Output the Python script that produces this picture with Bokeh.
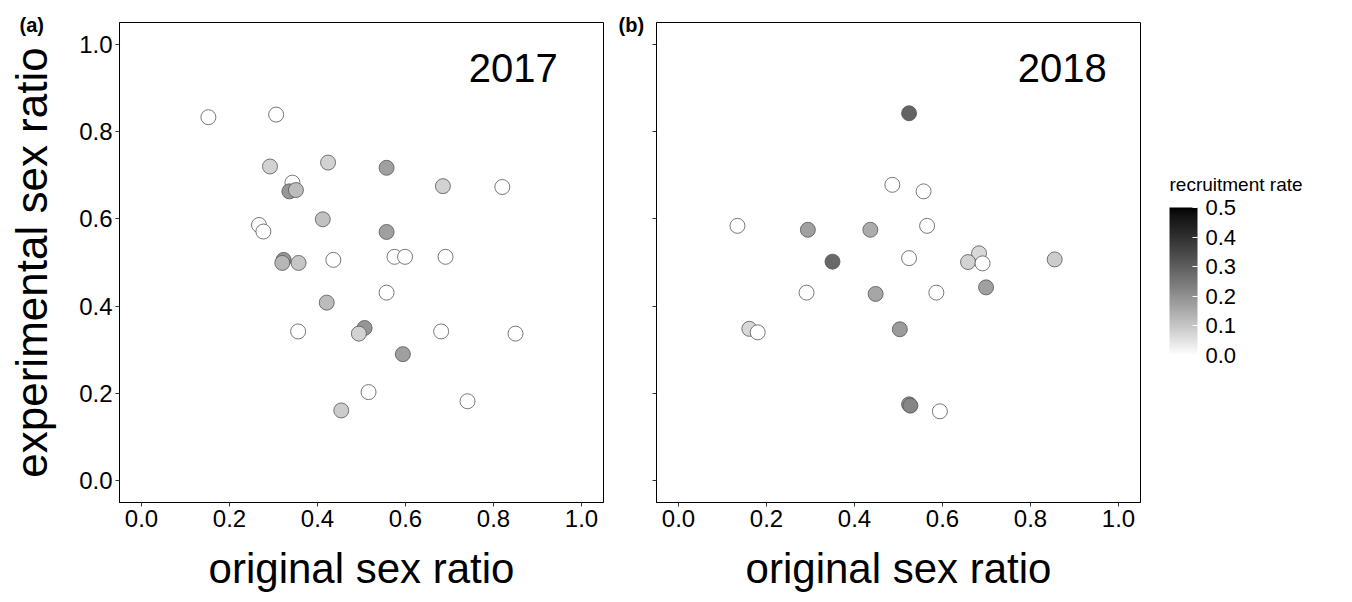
from bokeh.plotting import figure
from bokeh.models import (ColumnDataSource, LinearColorMapper, ColorBar, FixedTicker,
                          Label, PrintfTickFormatter, CustomJSTickFormatter, Range1d, Title)
from bokeh.layouts import row
from bokeh.embed import file_html
from bokeh.resources import INLINE
from bokeh.transform import transform

# ---------------- data ----------------
x_2017 = [0.152, 0.306, 0.292, 0.424, 0.557, 0.685, 0.343, 0.336, 0.351, 0.412, 0.267,
          0.277, 0.557, 0.323, 0.320, 0.357, 0.436, 0.575, 0.599, 0.691, 0.820, 0.557,
          0.421, 0.356, 0.507, 0.494, 0.681, 0.594, 0.516, 0.454, 0.850, 0.741]
y_2017 = [0.833, 0.839, 0.720, 0.729, 0.717, 0.675, 0.683, 0.663, 0.666, 0.599, 0.586,
          0.571, 0.570, 0.506, 0.499, 0.499, 0.506, 0.513, 0.513, 0.513, 0.673, 0.431,
          0.408, 0.342, 0.350, 0.337, 0.342, 0.290, 0.203, 0.161, 0.337, 0.182]
rate_2017 = [0.0, 0.0, 0.08, 0.08, 0.17, 0.08, 0.0, 0.19, 0.12, 0.11, 0.0,
             0.0, 0.17, 0.19, 0.13, 0.10, 0.0, 0.0, 0.0, 0.0, 0.0, 0.0,
             0.12, 0.0, 0.19, 0.08, 0.0, 0.17, 0.0, 0.09, 0.0, 0.0]

x_2018 = [0.524, 0.486, 0.557, 0.134, 0.294, 0.436, 0.565, 0.350, 0.524, 0.683, 0.658,
          0.691, 0.291, 0.448, 0.586, 0.699, 0.161, 0.180, 0.503, 0.524, 0.527, 0.594, 0.855]
y_2018 = [0.842, 0.678, 0.663, 0.584, 0.575, 0.575, 0.584, 0.502, 0.510, 0.521, 0.501,
          0.498, 0.431, 0.428, 0.431, 0.443, 0.348, 0.340, 0.347, 0.175, 0.172, 0.159, 0.507]
rate_2018 = [0.29, 0.0, 0.0, 0.0, 0.17, 0.15, 0.0, 0.28, 0.0, 0.07, 0.08,
             0.0, 0.0, 0.16, 0.0, 0.17, 0.07, 0.0, 0.18, 0.19, 0.22, 0.0, 0.09]

axis_ticks = [0.0, 0.2, 0.4, 0.6, 0.8, 1.0]
rate_ticks = [0.0, 0.1, 0.2, 0.3, 0.4, 0.5]
x_title = "original sex ratio"
y_title = "experimental sex ratio"
legend_title = "recruitment rate"

FONT = "Liberation Sans"
H = 594


def lab_gray(t):
    L = 100.0 * (1.0 - t)
    Y = ((L + 16) / 116) ** 3 if L > 8 else L / 903.3
    c = 12.92 * Y if Y <= 0.0031308 else 1.055 * Y ** (1 / 2.4) - 0.055
    g = max(0, min(255, round(c * 255)))
    return "#%02x%02x%02x" % (g, g, g)


palette = [lab_gray(i / 255) for i in range(256)]
mapper = LinearColorMapper(palette=palette, low=0.0, high=0.5)


def make_panel(xs, ys, rs, tag, tag_offset, width, mbl, mbr, show_ylab):
    p = figure(width=width, height=H, output_backend="svg", toolbar_location=None,
               x_range=Range1d(-0.05, 1.05), y_range=Range1d(-0.05, 1.05),
               min_border_left=mbl, min_border_right=mbr, min_border_top=22,
               min_border_bottom=85)
    p.title = Title(text=tag, align="left", offset=tag_offset, standoff=-26,
                    vertical_align="bottom", text_font=FONT, text_font_size="20px",
                    text_font_style="bold", text_color="black")
    p.grid.visible = False
    p.outline_line_color = "black"
    p.outline_line_width = 1
    p.background_fill_color = "white"
    for ax in (p.xaxis[0], p.yaxis[0]):
        ax.ticker = FixedTicker(ticks=axis_ticks)
        ax.formatter = PrintfTickFormatter(format="%.1f")
        ax.major_tick_out = 4
        ax.major_tick_in = 0
        ax.minor_tick_line_color = None
        ax.major_tick_line_color = "#333333"
        ax.axis_line_color = "black"
        ax.major_label_text_font = FONT
        ax.major_label_text_font_size = "24px"
        ax.major_label_text_color = "black"
        ax.major_label_standoff = 3
        ax.axis_label_text_font = FONT
        ax.axis_label_text_font_style = "normal"
        ax.axis_label_text_color = "black"
    p.xaxis.axis_label = x_title
    p.xaxis.axis_label_text_font_size = "42px"
    p.xaxis.axis_label_standoff = 15
    if show_ylab:
        p.yaxis.axis_label = y_title
        p.yaxis.axis_label_text_font_size = "44px"
        p.yaxis.axis_label_standoff = 20
    else:
        p.yaxis.formatter = CustomJSTickFormatter(code="return ''")

    src = ColumnDataSource(dict(x=xs, y=ys, rate=rs))
    p.scatter("x", "y", source=src, size=15, fill_color=transform("rate", mapper),
              line_color="#555555", line_width=0.8)
    return p


p1 = make_panel(x_2017, y_2017, rate_2017, "(a)", -100, 610, 119, 7, True)
p2 = make_panel(x_2018, y_2018, rate_2018, "(b)", -38, 539, 46, 9, False)

p1.add_layout(Label(x=0.845, y=0.945, text="2017", text_align="center",
                    text_baseline="middle", text_font=FONT, text_font_size="40px",
                    text_color="black"))
p2.add_layout(Label(x=0.872, y=0.945, text="2018", text_align="center",
                    text_baseline="middle", text_font=FONT, text_font_size="40px",
                    text_color="black"))

# colour bar panel
p3 = figure(width=195, height=H, output_backend="svg", toolbar_location=None,
            x_range=Range1d(0, 195), y_range=Range1d(0, H),
            x_axis_location=None, y_axis_location=None,
            min_border_left=0, min_border_right=0, min_border_top=0, min_border_bottom=0)
p3.grid.visible = False
p3.outline_line_color = None

cbar = ColorBar(color_mapper=mapper, ticker=FixedTicker(ticks=rate_ticks),
                formatter=PrintfTickFormatter(format="%.1f"),
                width=28, height=148, location=(20, 147),
                padding=0, margin=0,
                major_label_text_font=FONT, major_label_text_font_size="22px",
                major_label_text_color="black", label_standoff=8,
                major_tick_in=5, major_tick_out=0, major_tick_line_color="white",
                bar_line_color=None, border_line_color=None,
                background_fill_color=None)
p3.add_layout(cbar, "center")
p3.add_layout(Label(x=20, y=H - 201, text=legend_title, text_align="left",
                    text_baseline="alphabetic", text_font=FONT, text_font_size="19px",
                    text_color="black"))

layout = row(p1, p2, p3)
open("out.html", "w").write(file_html(layout, INLINE))
